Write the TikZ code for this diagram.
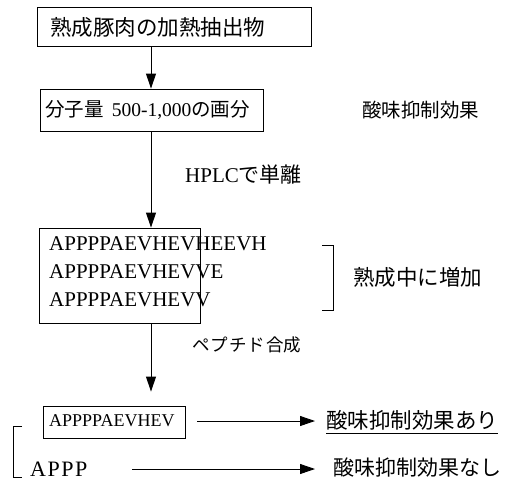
\documentclass[tikz,border=0pt]{standalone}
\usepackage{fontspec}
\setmainfont{Liberation Serif}
\newfontfamily\jp{Noto Sans CJK JP}
\usetikzlibrary{arrows.meta}
\tikzset{
  boxframe/.style={draw, line width=0.9pt, inner sep=0pt},
  lbl/.style={inner sep=0pt, anchor=west},
  arr/.style={line width=0.9pt, -{Triangle[length=15pt,width=10pt]}},
  brk/.style={line width=0.9pt},
}
\begin{document}
\begin{tikzpicture}[x=1pt,y=-1pt]
\useasboundingbox (0,0) rectangle (506,482);
% boxes
\node[boxframe, minimum width=274pt, minimum height=39pt] (b1) at (174,27) {};
\node[boxframe, minimum width=223pt, minimum height=42pt] (b2) at (151.5,110) {};
\node[boxframe, minimum width=161pt, minimum height=95pt] (b3) at (119.5,275.5) {};
\node[boxframe, minimum width=142pt, minimum height=32pt] (b4) at (114,422) {};
% texts
\node[lbl, font=\jp\fontsize{21.5}{22}\selectfont] (t1) at (50,27) {熟成豚肉の加熱抽出物};
\node[lbl, font=\fontsize{19.5}{20}\selectfont] (t2) at (45,110) {{\jp 分子量}\, 500-1,000{\jp の画分}};
\node[lbl, font=\jp\fontsize{19.5}{20}\selectfont] (t3) at (362,110) {酸味抑制効果};
\node[lbl, font=\fontsize{21}{21}\selectfont] (t4) at (185,175) {HPLC{\jp で単離}};
\node[lbl, font=\fontsize{21}{21}\selectfont] (s1) at (49,244) {APPPPAEVHEVHEEVH};
\node[lbl, font=\fontsize{21}{21}\selectfont] (s2) at (49,272) {APPPPAEVHEVVE};
\node[lbl, font=\fontsize{21}{21}\selectfont] (s3) at (49,300) {APPPPAEVHEVV};
\node[lbl, font=\jp\fontsize{21.5}{22}\selectfont] (t5) at (353,277) {熟成中に増加};
\node[lbl, font=\jp\fontsize{17.5}{18}\selectfont] (t6) at (192,345) {ペ\kern1pt プ\kern1pt チ\kern1pt ド\kern1pt 合成};
\node[lbl, font=\fontsize{18}{18}\selectfont] (s4) at (49,421) {APPPPAEVHEV};
\node[lbl, font=\jp\fontsize{21.5}{22}\selectfont] (t7) at (326,420) {酸味抑制効果あり};
\node[lbl, font=\fontsize{22}{22}\selectfont] (s5) at (30,469) {A\kern1.5pt P\kern1.5pt P\kern1.5pt P};
\node[lbl, font=\jp\fontsize{21}{22}\selectfont] (t8) at (333,468) {酸味抑制効果なし};
% axis of the flow
\coordinate (ax) at (151,0);
\draw[arr] (b1.south -| ax) -- (b2.north -| ax);
\draw[arr] (b2.south -| ax) -- (b3.north -| ax);
\draw[arr] (b3.south -| ax) -- ([yshift=14pt]b4.north -| ax);
% side arrows
\coordinate (a1s) at (197,421);
\coordinate (a1e) at (315,421);
\coordinate (a2s) at (132,469);
\coordinate (a2e) at (315,469);
\draw[arr] (a1s) -- (a1e);
\draw[arr] (a2s) -- (a2e);
% underline
\draw[line width=0.9pt] ([yshift=-3pt]t7.south west) -- ([yshift=-3pt]t7.south east);
% brackets
\draw[brk] (322,245) -- (333,245) -- (333,310) -- (322,310);
\draw[brk] (22,426) -- (13,426) -- (13,477) -- (22,477);
\end{tikzpicture}
\end{document}
